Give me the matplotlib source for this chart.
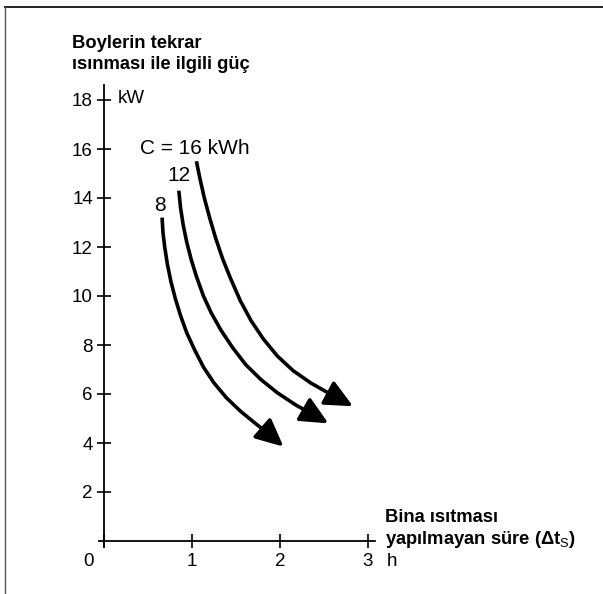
import matplotlib
matplotlib.use('Agg')
import matplotlib.pyplot as plt
from matplotlib.path import Path
from matplotlib.patches import FancyArrowPatch
from matplotlib.lines import Line2D

plt.rcParams['font.family'] = ['Liberation Sans', 'DejaVu Sans']
plt.rcParams['mathtext.fontset'] = 'custom'
plt.rcParams['mathtext.rm'] = 'Liberation Sans'
plt.rcParams['mathtext.sf'] = 'Liberation Sans'

# degerler
x_c16 = [1.05, 1.09, 1.14, 1.20, 1.27, 1.35, 1.44, 1.55, 1.67, 1.81, 1.97, 2.15, 2.35, 2.57, 2.83]
y_c16 = [15.5, 14.8, 14.0, 13.2, 12.35, 11.5, 10.7, 9.8, 9.0, 8.25, 7.55, 6.95, 6.45, 6.0, 5.5]
x_c12 = [0.85, 0.87, 0.90, 0.94, 0.99, 1.05, 1.13, 1.22, 1.33, 1.46, 1.61, 1.78, 1.97, 2.18, 2.38, 2.55]
y_c12 = [14.3, 13.6, 12.9, 12.2, 11.5, 10.8, 10.0, 9.3, 8.6, 7.9, 7.2, 6.6, 6.05, 5.55, 5.15, 4.8]
x_c8 = [0.66, 0.67, 0.69, 0.72, 0.76, 0.81, 0.87, 0.94, 1.03, 1.13, 1.25, 1.39, 1.55, 1.72, 1.88, 2.04]
y_c8 = [13.2, 12.6, 12.0, 11.3, 10.6, 9.9, 9.2, 8.5, 7.8, 7.1, 6.45, 5.85, 5.3, 4.8, 4.35, 3.85]

y_ticks = [2, 4, 6, 8, 10, 12, 14, 16, 18]
x_ticks = [0, 1, 2, 3]
x_labels = ['', '1', '2', '3']

# olcek: 88 px / saat, 24.5 px / kW, orijin (104, 541)
W, H = 603, 594
x0, y0, sx, sy = 104, 541, 88.0, 24.5

fig = plt.figure(figsize=(W / 100, H / 100), dpi=100)
ax = fig.add_axes([0, 0, 1, 1])
ax.set_xlim(-x0 / sx, (W - x0) / sx)
ax.set_ylim(-(H - y0) / sy, y0 / sy)
ax.patch.set_alpha(0)

for s in ['top', 'right']:
    ax.spines[s].set_visible(False)
ax.spines['left'].set_position(('data', 0))
ax.spines['bottom'].set_position(('data', 0))
ax.spines['left'].set_bounds(-0.22, 18.6)
ax.spines['bottom'].set_bounds(-0.06, 3.08)
ax.spines['left'].set_linewidth(1.3)
ax.spines['bottom'].set_linewidth(1.3)

ax.set_yticks(y_ticks)
ax.set_yticklabels([str(v) for v in y_ticks])
ax.set_xticks(x_ticks)
ax.set_xticklabels(x_labels)
ax.tick_params(direction='inout', length=10, width=1.2, labelsize=13.5, pad=4)
ax.tick_params(axis='y', pad=3)

ax.text(-0.18, -0.82, '0', fontsize=13.5, ha='center', va='center')
ax.text(3.27, -0.82, 'h', fontsize=13.5, ha='center', va='center')
ax.text(0.16, 18.05, 'kW', fontsize=13.5, ha='left', va='center')

ax.text(-0.36, 20.3, 'Boylerin tekrar', fontsize=13.2, fontweight='bold', ha='left', va='center')
ax.text(-0.36, 19.45, 'ısınması ile ilgili güç', fontsize=13.2, fontweight='bold', ha='left', va='center')

ax.text(3.19, 0.94, 'Bina ısıtması', fontsize=13.2, fontweight='bold', ha='left', va='center')
ax.text(3.19, 0.05, r'yapılmayan süre (Δt$_{\mathsf{S}}$)', fontsize=13.2, fontweight='bold',
        ha='left', va='center')

ax.text(0.41, 16.0, 'C = 16 kWh', fontsize=15, ha='left', va='center')
ax.text(0.85, 14.9, '12', fontsize=15, ha='center', va='center')
ax.text(0.64, 13.7, '8', fontsize=15, ha='center', va='center')

for xs, ys in [(x_c16, y_c16), (x_c12, y_c12), (x_c8, y_c8)]:
    verts = list(zip(xs, ys))
    codes = [Path.MOVETO] + [Path.LINETO] * (len(verts) - 1)
    arr = FancyArrowPatch(path=Path(verts, codes),
                          arrowstyle='-|>,head_length=0.85,head_width=0.4',
                          mutation_scale=20, lw=2.6, color='black',
                          joinstyle='round', capstyle='butt')
    ax.add_patch(arr)

# cerceve
fig.add_artist(Line2D([5 / W, 1], [1 - 7 / H, 1 - 7 / H], color='#222222', lw=1.4,
                      transform=fig.transFigure))
fig.add_artist(Line2D([5 / W, 5 / W], [0, 1 - 7 / H], color='#555555', lw=1.0,
                      transform=fig.transFigure))

plt.savefig('out.png', dpi=100)
plt.close('all')
